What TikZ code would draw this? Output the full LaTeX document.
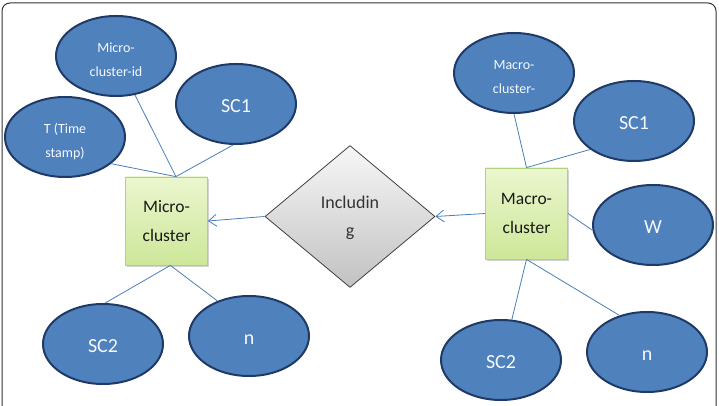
\documentclass[tikz,border=0pt]{standalone}
\usepackage{fontspec}
\setmainfont{Carlito}
\usetikzlibrary{arrows.meta,shapes.geometric,shadows}
\definecolor{attrfill}{HTML}{4F81BD}
\definecolor{attredge}{HTML}{1F3A66}
\definecolor{linkblue}{HTML}{4A7EBB}
\definecolor{entitytop}{HTML}{EBF6CE}
\definecolor{entitybottom}{HTML}{CDE799}
\definecolor{entityedge}{HTML}{B3D17C}
\definecolor{relationtop}{HTML}{F7F7F7}
\definecolor{relationbottom}{HTML}{C2C2C2}

\begin{document}
\begin{tikzpicture}[
  x=1pt,
  y=1pt,
  line join=round,
  attr/.style={ellipse,fill=attrfill,draw=attredge,line width=2pt,minimum width=120pt,minimum height=80pt,inner sep=0pt,text=white!95!attrfill,align=center},
  smallattr/.style={attr,font=\fontsize{14}{23.5}\selectfont,text height=41pt,text depth=0pt},
  bigattr/.style={attr,font=\fontsize{20}{24}\selectfont,text height=17pt,text depth=0pt},
  entity/.style={rectangle,draw=entityedge,line width=0.8pt,top color=entitytop,bottom color=entitybottom,minimum width=82pt,minimum height=88pt,inner sep=0pt,align=center,text=black!90,font=\fontsize{17.5}{29}\selectfont,drop shadow={shadow xshift=1.5pt,shadow yshift=-2pt,opacity=0.35}},
  relation/.style={diamond,draw=black!75,line width=0.8pt,top color=relationtop,bottom color=relationbottom,minimum width=170pt,minimum height=142pt,inner sep=0pt,align=center,text=black!80,font=\fontsize{18}{28}\selectfont,text height=41pt,text depth=0pt},
  link/.style={draw=linkblue,line width=0.8pt},
  arrowlink/.style={link,-{Straight Barb[length=8pt,width=12pt]}},
  frame/.style={draw=black!80,line width=1pt,rounded corners=8pt}
]
  \useasboundingbox (0,0) rectangle (719,406);
  \clip (0,0) rectangle (719,406);

  % Outer frame of the slide, open at the bottom.
  \draw[frame] (2,-12) -- (2,403) -- (716,403) -- (716,-12);

  % Micro-cluster side.
  \node[entity] (micro) at (166.5,185) {Micro-\\cluster};
  \node[smallattr] (mcid) at (116,350) {Micro-\\cluster-id};
  \node[bigattr] (lsc1) at (236,302) {SC1};
  \node[smallattr] (tstamp) at (65,269) {T (Time\\stamp)};
  \node[bigattr] (lsc2) at (103,62) {SC2};
  \node[bigattr] (ln) at (249,70) {n};

  % Relation in the middle.
  \node[relation] (incl) at (350,189.5) {Includin\\g};

  % Macro-cluster side.
  \node[entity,minimum height=91pt] (macro) at (526.5,192.5) {Macro-\\cluster};
  \node[smallattr] (macid) at (514,333) {Macro-\\cluster-};
  \node[bigattr] (rsc1) at (634,285) {SC1};
  \node[bigattr] (w) at (653,181) {W};
  \node[bigattr] (rsc2) at (501,46) {SC2};
  \node[bigattr] (rn) at (647,54) {n};

  % Attribute links.
  \foreach \a/\b in {tstamp.-30/micro.78, mcid.-64/micro.78, lsc1.-94/micro.78,
                     micro.-85/lsc2.87, micro.-85/ln.132,
                     macid.-90/macro.north, rsc1.-147/macro.north, macro.east/w.185,
                     macro.south/rsc2.75, macro.south/rn.127} {
    \draw[link] (\a) -- (\b);
  }

  % Including arrows point towards the micro-cluster.
  \draw[arrowlink] (macro.west) -- (incl.east);
  \draw[arrowlink] (incl.west) -- (micro.east);
\end{tikzpicture}
\end{document}
